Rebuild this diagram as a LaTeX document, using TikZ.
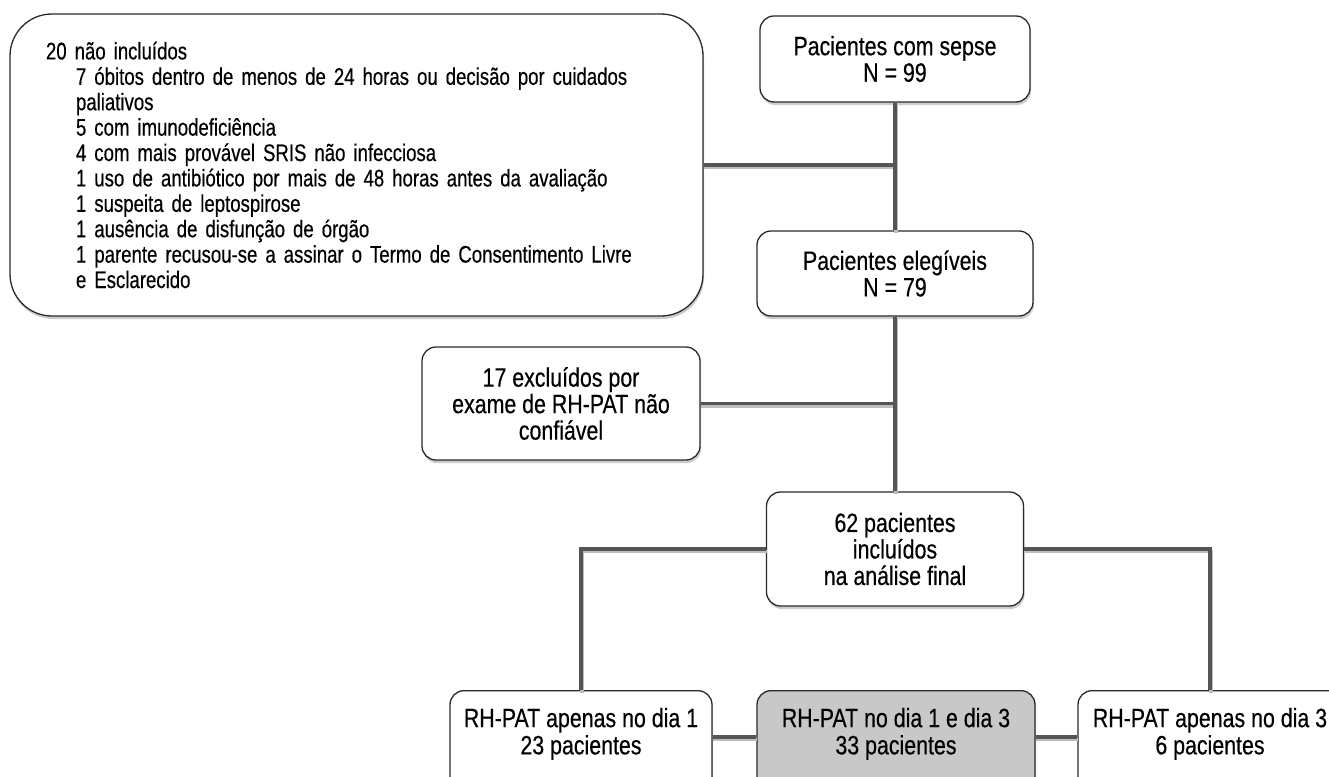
\documentclass[tikz,border=0pt]{standalone}
\usepackage{fontspec}
\setmainfont{Liberation Sans}[FakeStretch=0.806, FakeBold=0.4]
\newfontfamily\listfont{Liberation Sans}[FakeStretch=0.775, FakeBold=0.4]
\usetikzlibrary{shadows}
\definecolor{connc}{HTML}{555555}
\definecolor{shadc}{HTML}{BDBDBD}
\definecolor{grayfill}{HTML}{C8C8C8}
\definecolor{edgec}{HTML}{2A2A2A}
\begin{document}
\begin{tikzpicture}[x=1pt,y=-1pt,
  every node/.style={font=\fontsize{26.5pt}{26.5pt}\selectfont},
  box/.style={draw=edgec, line width=1.3pt, fill=white, rounded corners=14pt,
    inner sep=0pt, align=center,
    drop shadow={shadow xshift=1pt, shadow yshift=-3pt, fill=black!20, opacity=1}},
  conn/.style={line width=3.8pt, draw=connc,
    preaction={draw=shadc, line width=3.8pt, transform canvas={xshift=0.8pt, yshift=-2.5pt}}}]
\useasboundingbox (0,0) rectangle (1329,776);
\clip (0,0) rectangle (1329,776);
\fill[white] (0,0) rectangle (1329,776);

\node[box, minimum width=693pt, minimum height=302pt, text width=621pt, inner xsep=36pt,
  align=left, rounded corners=42pt, font=\listfont\fontsize{24pt}{25.4pt}\selectfont] (big) at (356.5,165) {20 não incluídos\\
\hspace*{30pt}7 óbitos dentro de menos de 24 horas ou decisão por cuidados\\
\hspace*{30pt}paliativos\\
\hspace*{30pt}5 com imunodeficiência\\
\hspace*{30pt}4 com mais provável SRIS não infecciosa\\
\hspace*{30pt}1 uso de antibiótico por mais de 48 horas antes da avaliação\\
\hspace*{30pt}1 suspeita de leptospirose\\
\hspace*{30pt}1 ausência de disfunção de órgão\\
\hspace*{30pt}1 parente recusou-se a assinar o Termo de Consentimento Livre\\
\hspace*{30pt}e Esclarecido};

\node[box, minimum width=270pt, minimum height=86pt] (sepse) at (895,59) {Pacientes com sepse\\N = 99};
\node[box, minimum width=276pt, minimum height=85pt] (eleg) at (895,273.5) {Pacientes elegíveis\\N = 79};
\node[box, minimum width=278pt, minimum height=113pt] (excl) at (561,403.5) {17 excluídos por\\exame de RH-PAT não\\confiável};
\node[box, minimum width=257pt, minimum height=114pt] (incl) at (895,549) {62 pacientes\\incluídos\\na análise final};

\node[box, align=none, anchor=north, minimum width=262pt, text height=36.5pt, text depth=120pt] (b1) at (581,690)
  {\begin{tabular}[t]{@{}c@{}}RH-PAT apenas no dia 1\\23 pacientes\end{tabular}};
\node[box, align=none, anchor=north, fill=grayfill, minimum width=278pt, text height=36.5pt, text depth=120pt] (b2) at (896,690)
  {\begin{tabular}[t]{@{}c@{}}RH-PAT no dia 1 e dia 3\\33 pacientes\end{tabular}};
\node[box, align=none, anchor=north, minimum width=264pt, text height=36.5pt, text depth=120pt] (b3) at (1210,690)
  {\begin{tabular}[t]{@{}c@{}}RH-PAT apenas no dia 3\\6 pacientes\end{tabular}};

\draw[conn] (big.east) -- (big.east -| sepse.south);
\draw[conn] (excl.east) -- (excl.east -| eleg.south);
\draw[conn] (sepse.south) -- (eleg.north);
\draw[conn] (eleg.south) -- (incl.north);
\draw[conn] (incl.west) -| (b1.north);
\draw[conn] (incl.east) -| (b3.north);
\draw[conn] ([yshift=-47pt]b1.north east) -- ([yshift=-47pt]b2.north west);
\draw[conn] ([yshift=-47pt]b2.north east) -- ([yshift=-47pt]b3.north west);
\end{tikzpicture}
\end{document}
